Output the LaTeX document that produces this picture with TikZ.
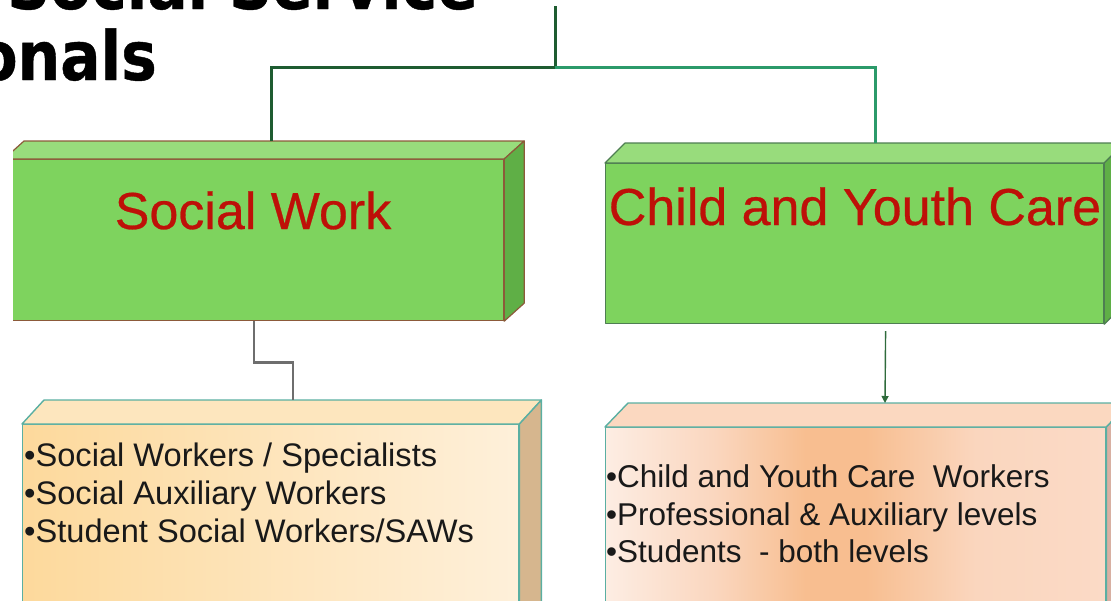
\documentclass[tikz,border=0pt]{standalone}
\usepackage{fontspec}
\setmainfont{Liberation Sans}
\newfontfamily\titlefont[FakeStretch=0.88,FakeBold=0.6]{DejaVu Sans}
\newfontfamily\headfont[FakeBold=0.5]{Liberation Sans}
\usetikzlibrary{calc,arrows.meta}

\definecolor{boxgreen}{HTML}{7ED35E}
\definecolor{boxgreentop}{HTML}{98DC7C}
\definecolor{boxgreenside}{HTML}{5FAF46}
\definecolor{swedge}{HTML}{8C5A3A}
\definecolor{cycedge}{HTML}{4E7E52}
\definecolor{labelred}{HTML}{BE1008}
\definecolor{listedge}{HTML}{5AAFA2}
\definecolor{trunkgreen}{HTML}{1E5C31}
\definecolor{branchgreen}{HTML}{2B9A6A}
\definecolor{stubgray}{HTML}{6E6E6E}
\definecolor{arrowgreen}{HTML}{2F6B3C}
\definecolor{creamleft}{HTML}{FDD99C}
\definecolor{creamright}{HTML}{FEF0DA}
\definecolor{creamtop}{HTML}{FDE6BE}
\definecolor{creamside}{HTML}{D6B68E}
\definecolor{peachedge}{HTML}{FDEDE3}
\definecolor{peachsoft}{HTML}{FAD6BE}
\definecolor{peachmid}{HTML}{F8BE90}
\definecolor{peachright}{HTML}{FBDAC6}
\definecolor{peachtop}{HTML}{FBD8C0}
\definecolor{peachside}{HTML}{D8B0A2}

% orange band across the peach face (path spans 25bp..75bp)
\pgfdeclarehorizontalshading{peachband}{100bp}{%
  color(0bp)=(peachedge); color(25bp)=(peachedge); color(36bp)=(peachsoft);
  color(45bp)=(peachmid); color(51bp)=(peachmid); color(62bp)=(peachsoft);
  color(75bp)=(peachright); color(100bp)=(peachright)}

\tikzset{
  frontface/.style={rectangle, inner sep=0pt, anchor=north west, line join=round},
  facepath/.style={line join=round},
  headlabel/.style={font=\headfont\fontsize{52}{52}\selectfont, text=labelred, anchor=base, inner sep=0pt},
  listline/.style={font=\fontsize{31.5}{38}\selectfont, text=black!90, anchor=base west, inner sep=0pt},
  swlistline/.style={listline, font=\fontsize{32.6}{38}\selectfont},
  trunkline/.style={draw=trunkgreen, line width=3pt},
  branchline/.style={draw=branchgreen, line width=3pt},
  stubline/.style={draw=stubgray, line width=2.6pt},
  arrowline/.style={draw=arrowgreen, line width=1.4pt, -{Triangle[length=7pt,width=7pt]}},
}

\begin{document}
\begin{tikzpicture}[x=1pt,y=-1pt]
\useasboundingbox (0,0) rectangle (1111,600);
\clip (0,0) rectangle (1111,600);

% heading
\node[anchor=base east, inner sep=0pt, font=\titlefont\bfseries\fontsize{68}{68}\selectfont] (title1) at (478,9) {Social Service};
\node[anchor=base east, inner sep=0pt, font=\titlefont\bfseries\fontsize{68}{68}\selectfont] (title2) at (157,80) {Professionals};

% connector end points
\coordinate (root) at (555,6);
\coordinate (hub) at (555,67);
\coordinate (swtop) at (271,141);
\coordinate (cyctop) at (875,143);
\coordinate (swlisttop) at (293,400);
\coordinate (cyclisttop) at (885,403);

% Social Work block
\begin{scope}
  \clip (13,100) rectangle (600,340);
  \node[frontface, fill=boxgreen, draw=swedge, line width=1.2pt,
        minimum width=499pt, minimum height=161pt] (sw) at (4,159) {};
  \filldraw[facepath, fill=boxgreentop, draw=swedge, line width=1.2pt]
    (sw.north west) -- ++(20,-18) -- ($(sw.north east)+(20,-18)$) -- (sw.north east) -- cycle;
  \filldraw[facepath, fill=boxgreenside, draw=swedge, line width=1.2pt]
    (sw.north east) -- ++(20,-18) -- ($(sw.south east)+(20,-18)$) -- (sw.south east) -- cycle;
\end{scope}
\node[headlabel] (swlabel) at (253,229) {Social Work};

% Child and Youth Care block
\node[frontface, fill=boxgreen, draw=cycedge, line width=1.2pt,
      minimum width=498pt, minimum height=160pt] (cyc) at (605,163) {};
\filldraw[facepath, fill=boxgreentop, draw=cycedge, line width=1.2pt]
  (cyc.north west) -- ++(20,-20) -- ($(cyc.north east)+(20,-20)$) -- (cyc.north east) -- cycle;
\filldraw[facepath, fill=boxgreenside, draw=cycedge, line width=1.2pt]
  (cyc.north east) -- ++(20,-20) -- ($(cyc.south east)+(20,-20)$) -- (cyc.south east) -- cycle;
\node[headlabel] (cyclabel) at (855,225) {Child and Youth Care};

% Social Work list block
\node[frontface, left color=creamleft, right color=creamright, draw=listedge, line width=1.4pt,
      minimum width=496pt, minimum height=220pt] (swlist) at (22,424) {};
\filldraw[facepath, fill=creamtop, draw=listedge, line width=1.4pt]
  (swlist.north west) -- ++(22,-24) -- ($(swlist.north east)+(22,-24)$) -- (swlist.north east) -- cycle;
\filldraw[facepath, fill=creamside, draw=listedge, line width=1.4pt]
  (swlist.north east) -- ++(22,-24) -- ($(swlist.south east)+(22,-24)$) -- (swlist.south east) -- cycle;
\node[swlistline] (swl1) at (24,466) {•Social Workers / Specialists};
\node[swlistline] (swl2) at (24,504) {•Social Auxiliary Workers};
\node[swlistline] (swl3) at (24,542) {•Student Social Workers/SAWs};

% Child and Youth Care list block
\node[frontface, shading=peachband, draw=listedge, line width=1.4pt,
      minimum width=500pt, minimum height=220pt] (cyclist) at (605,427) {};
\filldraw[facepath, fill=peachtop, draw=listedge, line width=1.4pt]
  (cyclist.north west) -- ++(23,-24) -- ($(cyclist.north east)+(23,-24)$) -- (cyclist.north east) -- cycle;
\filldraw[facepath, fill=peachside, draw=listedge, line width=1.4pt]
  (cyclist.north east) -- ++(23,-24) -- ($(cyclist.south east)+(23,-24)$) -- (cyclist.south east) -- cycle;
\node[listline] (cycl1) at (606,487) {•Child and Youth Care\ \ Workers};
\node[listline] (cycl2) at (606,525) {•Professional \& Auxiliary levels};
\node[listline] (cycl3) at (606,562) {•Students\ \ - both levels};

% connectors
\draw[trunkline] (root) -- (hub) -| (swtop);
\draw[branchline] (hub) -| (cyctop);
\draw[stubline] (sw.south) -- ++(0,41) -| (swlisttop);
\draw[arrowline] ($(cyc.south)+(31,7)$) -- (cyclisttop);
\end{tikzpicture}
\end{document}
